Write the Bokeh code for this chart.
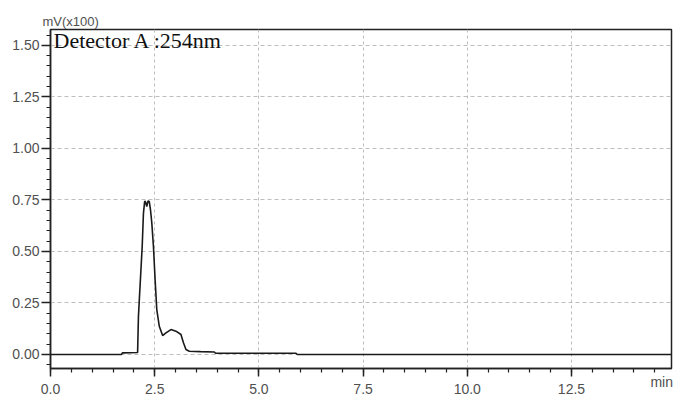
from bokeh.plotting import figure
from bokeh.models import (FixedTicker, NumeralTickFormatter, Label, Range1d,
                          LinearAxis, Title)
from bokeh.embed import file_html
from bokeh.resources import INLINE

# chromatogram trace: time (min), signal (mV x100)
time_min = [0.00, 1.70, 1.73, 2.09, 2.11, 2.14, 2.17, 2.20, 2.23, 2.26, 2.28,
            2.31, 2.34, 2.37, 2.40, 2.43, 2.47, 2.51, 2.55, 2.61, 2.69, 2.77,
            2.89, 3.01, 3.13, 3.19, 3.25, 3.33, 3.60, 3.93, 3.96, 5.89, 5.92,
            14.90]
signal = [0.000, 0.000, 0.008, 0.010, 0.185, 0.300, 0.411, 0.524, 0.685, 0.745,
          0.740, 0.718, 0.745, 0.742, 0.700, 0.640, 0.524, 0.363, 0.218, 0.137,
          0.092, 0.105, 0.121, 0.113, 0.097, 0.057, 0.024, 0.016, 0.014, 0.012,
          0.006, 0.006, 0.000, 0.000]

x_ticks = [0.0, 2.5, 5.0, 7.5, 10.0, 12.5, 15.0]
y_ticks = [0.00, 0.25, 0.50, 0.75, 1.00, 1.25, 1.50]
x_unit_pos = 14.69  # where the "min" unit text sits on the time axis
x_lim = (0.0, 14.9)
y_lim = (-0.068, 1.577)

p = figure(width=673, height=396, output_backend="svg", toolbar_location=None,
           x_range=Range1d(*x_lim), y_range=Range1d(*y_lim),
           min_border_left=50, min_border_right=2, min_border_top=29,
           min_border_bottom=27)
p.background_fill_color = "white"
p.border_fill_color = "white"
p.outline_line_color = "#222222"
p.outline_line_width = 1.5

p.line(time_min, signal, line_color="#1a1a1a", line_width=1.6)

tick_font = "Liberation Sans"
label_color = "#505050"
for ax in (p.xaxis[0], p.yaxis[0]):
    ax.axis_line_color = "#222222"
    ax.axis_line_width = 1.5
    ax.major_tick_line_color = "#222222"
    ax.major_tick_line_width = 1.5
    ax.minor_tick_line_color = "#222222"
    ax.minor_tick_line_width = 1.2
    ax.major_tick_in = 0
    ax.minor_tick_in = 0
    ax.major_label_text_font = tick_font
    ax.major_label_text_font_size = "14px"
    ax.major_label_text_color = label_color

p.xaxis[0].ticker = FixedTicker(ticks=x_ticks,
                                minor_ticks=[i * 0.5 for i in range(31)])
p.xaxis[0].formatter = NumeralTickFormatter(format="0.0")
p.xaxis[0].major_tick_out = 8
p.xaxis[0].minor_tick_out = 4
p.xaxis[0].major_label_standoff = 7

# the "min" unit text, pulled up next to the tick labels
ax2 = LinearAxis(ticker=FixedTicker(ticks=[x_unit_pos], minor_ticks=[]),
                 major_label_overrides={x_unit_pos: "min"},
                 axis_line_color=None, major_tick_line_color=None,
                 minor_tick_line_color=None, major_tick_out=0, major_tick_in=0,
                 minor_tick_out=0, minor_tick_in=0, major_label_standoff=-23,
                 major_label_text_font=tick_font,
                 major_label_text_font_size="14px",
                 major_label_text_color=label_color)
p.add_layout(ax2, "below")

p.yaxis[0].ticker = FixedTicker(ticks=y_ticks,
                                minor_ticks=[i * 0.05 for i in range(-1, 32)])
p.yaxis[0].formatter = NumeralTickFormatter(format="0.00")
p.yaxis[0].major_tick_out = 9
p.yaxis[0].minor_tick_out = 4
p.yaxis[0].major_label_standoff = 2

p.xgrid.ticker = FixedTicker(ticks=x_ticks)
p.xgrid.grid_line_color = "#bdbdbd"
p.xgrid.grid_line_dash = "3 3"
p.xgrid.grid_line_width = 1
p.ygrid.grid_line_color = "#bdbdbd"
p.ygrid.grid_line_dash = "4 3"
p.ygrid.grid_line_width = 1

p.title = Title(text="mV(x100)", align="left", offset=-8, standoff=1,
                text_font=tick_font, text_font_size="13px",
                text_font_style="normal", text_color=label_color)

p.add_layout(Label(x=x_lim[0], y=y_lim[1], x_offset=3, y_offset=2,
                   text="Detector A :254nm", text_font="Liberation Serif",
                   text_font_size="22px", text_color="#111111",
                   text_baseline="top", text_align="left"))

open("out.html", "w").write(file_html(p, INLINE))
